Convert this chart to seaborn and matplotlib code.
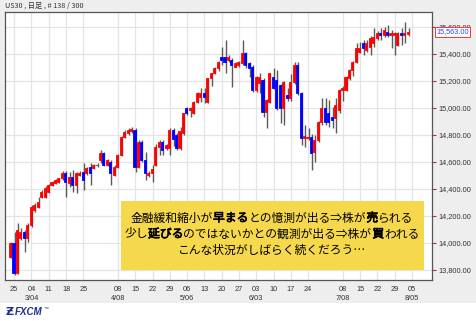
import matplotlib
matplotlib.use("Agg")
import matplotlib.pyplot as plt
from matplotlib.patches import Rectangle
import matplotlib.patheffects as pe
import seaborn as sns
import numpy as np

# ---------------- data ----------------
opens = [13900,13998,13780,14035,14084,14035,14133,14245,14269,14343,
         14343,14380,14430,14447,14454,14479,14516,14442,14491,14430,
         14504,14528,14516,14565,14553,14578,14615,14664,14578,14602,
         14504,14565,14652,14788,14812,14830,14837,14565,14751,14615,
         14505,14515,14578,14714,14751,14701,14701,14837,14800,14701,
         14812,15000,14985,14961,15047,15084,15109,15047,15220,15257,
         15294,15381,15381,15356,15356,15307,15319,15331,15405,15331,
         15307,15134,15183,15208,14973,15047,15232,15208,15170,15000,
         15097,15072,15195,15318,15109,14780,14775,14788,14676,14763,
         14899,14998,14960,14930,14924,14985,15133,15133,15220,15282,
         15343,15417,15479,15430,15454,15479,15516,15553,15541,15565,
         15541,15541,15467,15553,15541,15545]
highs = [14010,14080,14146,14110,14100,14150,14282,14300,14343,14395,
         14420,14440,14460,14475,14485,14530,14530,14528,14540,14528,
         14530,14590,14560,14590,14585,14590,14689,14675,14625,14615,
         14575,14660,14795,14835,14850,14860,14850,14765,14760,14677,
         14530,14578,14730,14763,14763,14735,14850,14850,14812,14860,
         14965,15010,15010,15050,15115,15146,15146,15225,15262,15300,
         15350,15455,15504,15390,15370,15340,15345,15504,15418,15344,
         15320,15240,15257,15220,15070,15260,15294,15282,15175,15200,
         15150,15250,15343,15343,15115,14874,14850,14810,14800,14905,
         15072,15072,15060,15010,15072,15140,15160,15240,15290,15350,
         15480,15491,15504,15504,15530,15590,15570,15590,15603,15615,
         15578,15565,15565,15590,15640,15590]
lows = [13886,13763,13770,14025,13936,14010,14120,14230,14257,14330,
        14330,14370,14420,14440,14445,14470,14343,14417,14380,14368,
        14495,14392,14505,14430,14545,14565,14590,14570,14570,14430,
        14495,14555,14645,14780,14800,14815,14528,14555,14600,14467,
        14490,14454,14570,14652,14652,14690,14652,14720,14690,14690,
        14800,14950,14935,14955,15040,15047,15035,15040,15160,15250,
        15275,15319,15257,15340,15158,15300,15300,15319,15294,15232,
        15121,15121,15109,14936,14850,15040,15140,14985,14887,14874,
        15050,15050,15180,15097,14726,14714,14760,14541,14603,14750,
        14874,14874,14862,14850,14813,14960,15050,15125,15210,15240,
        15330,15405,15393,15417,15393,15454,15500,15504,15528,15528,
        15442,15393,15460,15467,15480,15530]
closes = [13998,13775,14096,14084,14035,14133,14269,14282,14306,14380,
          14405,14430,14454,14467,14479,14516,14454,14491,14430,14516,
          14521,14467,14553,14516,14578,14580,14664,14578,14615,14516,
          14565,14652,14788,14825,14837,14845,14565,14751,14615,14516,
          14515,14545,14714,14751,14689,14726,14837,14770,14701,14830,
          14961,14961,14997,15047,15109,15109,15080,15220,15257,15294,
          15344,15356,15344,15381,15319,15331,15340,15405,15319,15294,
          15134,15232,15232,14973,15060,15257,15146,15000,15000,15195,
          15072,15195,15318,15109,14775,14790,14785,14665,14763,14899,
          14998,14899,14899,14910,15022,15133,15150,15232,15282,15343,
          15442,15442,15442,15479,15516,15528,15553,15541,15578,15541,
          15553,15553,15553,15541,15553,15563]

day_labels = ["25","04","11","18","25","08","15","22","29","06","13","20",
              "27","03","10","17","24","08","15","22","29","05"]
label_weeks = [0,1,2,3,4,6,7,8,9,10,11,12,13,14,15,16,17,19,20,21,22,23]
month_labels = {1:"3/04", 6:"4/08", 10:"5/06", 14:"6/03", 19:"7/08", 23:"8/05"}
y_ticks = [13800,14000,14200,14400,14600,14800,15000,15200,15400,15600]
last_price = 15563.00
title = "US30 , 日足 , # 138 / 300"
lines = [
    [("金融緩和縮小が", False), ("早まる", True), ("との憶測が出る⇒株が", False), ("売", True), ("られる", False)],
    [("少し", False), ("延びる", True), ("のではないかとの観測が出る⇒株が", False), ("買", True), ("われる", False)],
    [("こんな状況がしばらく続くだろう…", False)],
]

# ---------------- style ----------------
sns.set_theme(style="white")
plt.rcParams['font.family'] = ['Liberation Sans', 'DejaVu Sans']
CJK = ['Noto Sans CJK JP', 'DejaVu Sans']

W, H = 477, 321
fig = plt.figure(figsize=(W/100, H/100), dpi=100, facecolor="#eeeeee")
ax = fig.add_axes([5/W, 1-280/H, 427/W, 268/H])
ax.set_facecolor("white")

o = np.array(opens); h = np.array(highs); l = np.array(lows); c = np.array(closes)
x = np.arange(len(o))
up = c >= o
cols = np.where(up, "#ff0000", "#0000ff")

ax.vlines(x + 0.3, l, h, color="#5a5a5a", lw=1.0, zorder=2)
ax.bar(x, np.abs(c - o), bottom=np.minimum(o, c), width=0.6, color=cols,
       edgecolor=cols, linewidth=0.6, zorder=3)

ax.set_xlim(-1.45, 122)
ax.set_ylim(13726, 15711)

xt = [1.2 + 5*k for k in label_weeks]
xl = [d + ("\n" + month_labels[k] if k in month_labels else "") for d, k in zip(day_labels, label_weeks)]
ax.set_xticks(xt)
ax.set_xticklabels(xl, fontsize=5.3, color="#333333", linespacing=1.45, va="top")
ax.set_yticks(y_ticks)
ax.set_yticklabels([f"{v:,.2f}" for v in y_ticks], fontsize=5.3, color="#333333")
ax.yaxis.tick_right()
ax.tick_params(axis="x", colors="#dd2222", length=2.5, width=0.8, pad=1.5, labelcolor="#333333")
ax.tick_params(axis="y", colors="#dd2222", length=3, width=0.8, pad=1.5, labelcolor="#333333")
ax.grid(True, color="#e4e4e4", lw=0.9, zorder=0)
ax.set_axisbelow(True)
for s in ax.spines.values():
    s.set_color("#555555"); s.set_linewidth(0.9)

# current price label
ax.annotate(f"{last_price:,.2f}", xy=(1.0, last_price), xycoords=("axes fraction", "data"),
            xytext=(3, 0), textcoords="offset points", fontsize=5.3, color="#3344ff",
            va="center", ha="left", zorder=8,
            bbox=dict(boxstyle="square,pad=0.15", fc="white", ec="#ff3333", lw=0.7))

# title
fig.text(5/W, 1-6/H, title, fontsize=5.2, family=CJK, color="#333333", va="center", ha="left")

# bottom white strip and logo
fig.patches.append(Rectangle((0, 0), 1, 18/H, transform=fig.transFigure,
                             facecolor="white", edgecolor="none", zorder=0))
fig.text(5/W, 1-312/H, "Ƶ", fontsize=8, color="#1c2f8f", fontweight="bold",
         family=["DejaVu Sans"], va="center", ha="left")
fig.text(15/W, 1-312/H, "FXCM", fontsize=7, color="#1c2f8f", fontweight="bold",
         style="italic", va="center", ha="left")
fig.text(44/W, 1-308/H, "™", fontsize=3.5, color="#1c2f8f", va="center", ha="left")

# yellow note box
ax.add_patch(Rectangle((121/W, 1-270/H), 303/W, 69/H, transform=fig.transFigure,
                       facecolor="#f6d84c", edgecolor="none", zorder=6, clip_on=False))

FS = 8.5
em = FS * 100 / 72.0  # full-width glyph advance in pixels
centers_y = [218, 234, 250]
bold_fx = [pe.withStroke(linewidth=0.5, foreground="black")]
for segs, cy in zip(lines, centers_y):
    n = sum(len(s) for s, _ in segs)
    xs = 272 - n * em / 2
    for s, bold in segs:
        fig.text(xs/W, 1-cy/H, s, fontsize=FS, family=CJK,
                 va="center", ha="left", color="black", zorder=7,
                 path_effects=bold_fx if bold else None)
        xs += len(s) * em

fig.savefig("out.png", dpi=100, facecolor=fig.get_facecolor())
